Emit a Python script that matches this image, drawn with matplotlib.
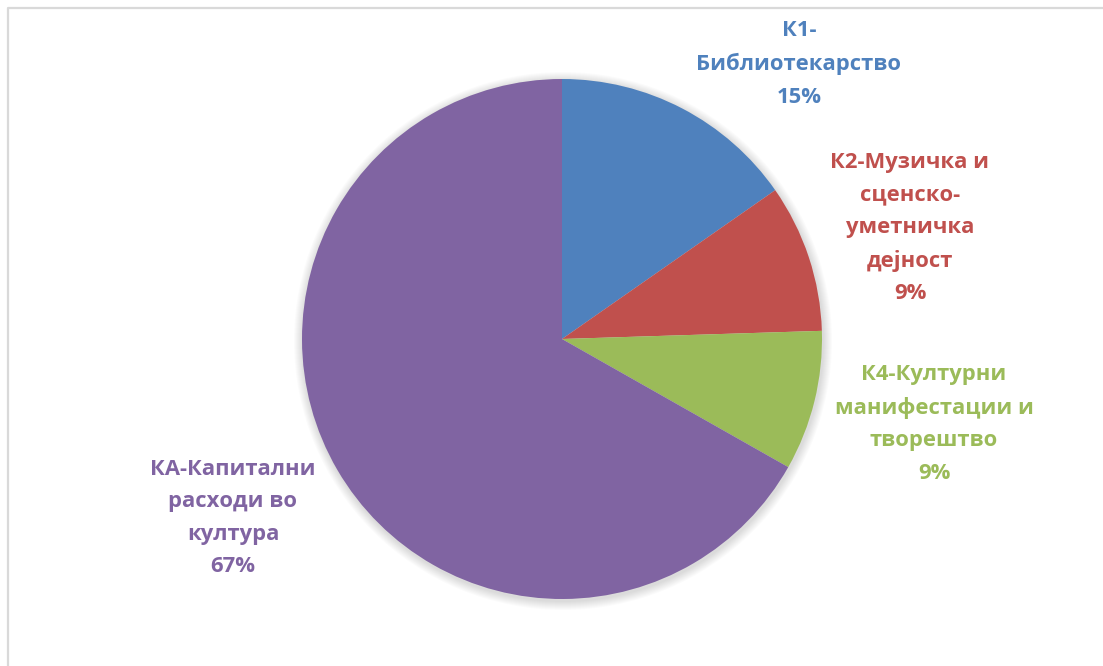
import matplotlib
matplotlib.use("Agg")
import matplotlib.pyplot as plt
from matplotlib.patches import Circle

# Budget shares by programme
categories = [
    "К1-\nБиблиотекарство",
    "К2-Музичка и\nсценско-\nуметничка\nдејност",
    "К4-Културни\nманифестации и\nтворештво",
    "КА-Капитални\nрасходи во\nкултура",
]
shares = [15.3, 9.2, 8.7, 66.8]
colors = ["#4F81BD", "#C0504D", "#9BBB59", "#8064A2"]

W, H = 1103, 666
fig = plt.figure(figsize=(W / 100, H / 100), dpi=100)
ax = fig.add_axes([0, 0, 1, 1])

cx, cy, r = 562, H - 339, 260

# soft shadow around the pie
for k in range(9, 0, -1):
    ax.add_patch(Circle((cx + 1, cy - 2), r + k, color="#000000",
                        alpha=0.014, lw=0, zorder=1))

ax.pie(shares, colors=colors, startangle=90, counterclock=False,
       center=(cx, cy), radius=r, frame=True,
       wedgeprops=dict(linewidth=0, zorder=2))
ax.set_xlim(0, W)
ax.set_ylim(0, H)
ax.set_aspect("equal")
ax.axis("off")

label_pos = [(799, H - 64), (910, H - 228), (934, H - 424), (233, H - 518)]
for name, v, c, (x, y) in zip(categories, shares, colors, label_pos):
    ax.text(x, y, f"{name}\n{round(v)}%", color=c, ha="center", va="center",
            fontsize=15.8, fontweight="bold", family=["Open Sans", "DejaVu Sans"],
            linespacing=1.7, zorder=5)

# frame lines on top and left
ax.plot([8, 8, W], [0, H - 8, H - 8], color="#D9D9D9", lw=1.6,
        solid_capstyle="butt", clip_on=False, zorder=6)

fig.savefig("out.png", dpi=100)
